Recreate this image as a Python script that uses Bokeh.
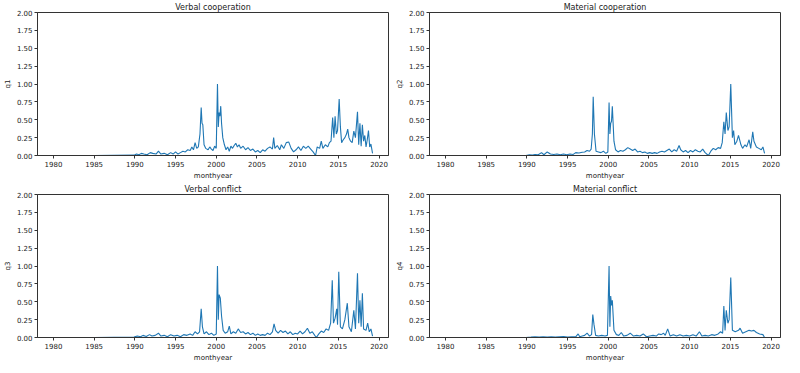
from bokeh.plotting import figure
from bokeh.layouts import gridplot
from bokeh.models import FixedTicker, NumeralTickFormatter, Range1d
from bokeh.embed import file_html
from bokeh.resources import INLINE

# ---------------- data ----------------
titles = ["Verbal cooperation", "Material cooperation", "Verbal conflict", "Material conflict"]
ylabels = ["q1", "q2", "q3", "q4"]
xticks = [1980, 1985, 1990, 1995, 2000, 2005, 2010, 2015, 2020]
yticks = [0.0, 0.25, 0.5, 0.75, 1.0, 1.25, 1.5, 1.75, 2.0]

t1 = [1980.0, 1985.0, 1989.9, 1990.2, 1990.5, 1990.8, 1991.1, 1991.5, 1991.9, 1992.2, 1992.6, 1992.9,
      1993.2, 1993.6, 1994.0, 1994.4, 1994.7, 1995.0, 1995.3, 1995.6, 1995.9, 1996.2, 1996.5, 1996.8,
      1997.0, 1997.2, 1997.4, 1997.6, 1997.8, 1998.0, 1998.15, 1998.25, 1998.35, 1998.5, 1998.7, 1999.0,
      1999.2, 1999.4, 1999.6, 1999.8, 2000.0, 2000.15, 2000.25, 2000.35, 2000.45, 2000.55, 2000.65, 2000.8,
      2001.0, 2001.2, 2001.4, 2001.6, 2001.8, 2002.0, 2002.2, 2002.4, 2002.6, 2002.8, 2003.0, 2003.3,
      2003.6, 2003.9, 2004.2, 2004.5, 2004.8, 2005.1, 2005.4, 2005.7, 2006.0, 2006.3, 2006.6, 2006.9,
      2007.05, 2007.2, 2007.5, 2007.8, 2008.0, 2008.3, 2008.6, 2008.9, 2009.2, 2009.5, 2009.8, 2010.1,
      2010.4, 2010.7, 2011.0, 2011.3, 2011.6, 2011.9, 2012.2, 2012.4, 2012.7, 2012.9, 2013.1, 2013.4,
      2013.7, 2013.9, 2014.1, 2014.3, 2014.45, 2014.6, 2014.75, 2014.9, 2015.1, 2015.25, 2015.4, 2015.6,
      2015.8, 2016.0, 2016.15, 2016.3, 2016.5, 2016.7, 2016.9, 2017.1, 2017.35, 2017.5, 2017.65, 2017.8,
      2017.95, 2018.1, 2018.25, 2018.4, 2018.55, 2018.7, 2018.85, 2019.0, 2019.2]
q1 = [0.0, 0.0, 0.005, 0.02, 0.01, 0.03, 0.02, 0.01, 0.04, 0.03, 0.02, 0.06,
      0.02, 0.03, 0.01, 0.04, 0.02, 0.05, 0.02, 0.04, 0.06, 0.05, 0.08, 0.07,
      0.12, 0.08, 0.18, 0.10, 0.12, 0.30, 0.67, 0.45, 0.43, 0.15, 0.10, 0.08,
      0.12, 0.09, 0.07, 0.13, 0.10, 1.00, 0.40, 0.60, 0.55, 0.69, 0.45, 0.25,
      0.15, 0.08, 0.12, 0.06, 0.13, 0.10, 0.14, 0.17, 0.12, 0.15, 0.10, 0.13,
      0.08, 0.11, 0.07, 0.09, 0.05, 0.07, 0.04, 0.08, 0.06, 0.10, 0.12, 0.09,
      0.25, 0.10, 0.14, 0.08, 0.15, 0.10, 0.18, 0.19, 0.10, 0.05, 0.08, 0.12,
      0.07, 0.13, 0.10, 0.13, 0.09, 0.05, 0.00, 0.12, 0.10, 0.20, 0.10, 0.15,
      0.12, 0.18, 0.20, 0.53, 0.25, 0.55, 0.30, 0.35, 0.79, 0.40, 0.18, 0.22,
      0.25, 0.30, 0.37, 0.25, 0.20, 0.18, 0.34, 0.25, 0.61, 0.15, 0.45, 0.13,
      0.43, 0.20, 0.28, 0.12, 0.22, 0.35, 0.12, 0.16, 0.03]

t2 = [1980.0, 1985.0, 1989.9, 1990.3, 1990.7, 1991.0, 1991.4, 1991.8, 1992.1, 1992.5, 1992.9, 1993.3,
      1993.7, 1994.1, 1994.5, 1994.9, 1995.3, 1995.7, 1996.0, 1996.4, 1996.8, 1997.1, 1997.4, 1997.7,
      1997.9, 1998.05, 1998.15, 1998.3, 1998.5, 1998.8, 1999.1, 1999.4, 1999.7, 1999.95, 2000.1, 2000.2,
      2000.3, 2000.4, 2000.5, 2000.7, 2000.9, 2001.2, 2001.5, 2001.8, 2002.1, 2002.4, 2002.7, 2003.0,
      2003.3, 2003.6, 2003.9, 2004.2, 2004.5, 2004.8, 2005.1, 2005.4, 2005.7, 2006.0, 2006.3, 2006.6,
      2006.9, 2007.2, 2007.5, 2007.8, 2008.1, 2008.4, 2008.7, 2008.9, 2009.2, 2009.5, 2009.8, 2010.1,
      2010.4, 2010.7, 2011.0, 2011.3, 2011.6, 2011.9, 2012.3, 2012.6, 2012.9, 2013.2, 2013.5, 2013.8,
      2014.0, 2014.2, 2014.35, 2014.5, 2014.7, 2014.85, 2015.05, 2015.25, 2015.4, 2015.55, 2015.8, 2016.0,
      2016.3, 2016.5, 2016.8, 2017.0, 2017.3, 2017.5, 2017.75, 2017.9, 2018.2, 2018.5, 2018.8, 2019.0,
      2019.2]
q2 = [0.0, 0.0, 0.0, 0.01, 0.005, 0.015, 0.01, 0.04, 0.01, 0.05, 0.02, 0.015,
      0.02, 0.01, 0.02, 0.01, 0.02, 0.015, 0.04, 0.035, 0.045, 0.05, 0.07, 0.06,
      0.09, 0.30, 0.82, 0.30, 0.06, 0.05, 0.04, 0.06, 0.03, 0.05, 0.74, 0.30,
      0.45, 0.48, 0.69, 0.20, 0.08, 0.05, 0.07, 0.06, 0.08, 0.11, 0.09, 0.07,
      0.09, 0.05, 0.06, 0.04, 0.05, 0.03, 0.04, 0.03, 0.04, 0.03, 0.05, 0.06,
      0.05, 0.07, 0.09, 0.05, 0.08, 0.06, 0.14, 0.08, 0.05, 0.07, 0.04, 0.07,
      0.05, 0.08, 0.06, 0.05, 0.09, 0.04, 0.00, 0.06, 0.10, 0.08, 0.11, 0.10,
      0.18, 0.47, 0.30, 0.60, 0.35, 0.40, 1.00, 0.25, 0.35, 0.15, 0.20, 0.28,
      0.15, 0.10, 0.15, 0.12, 0.22, 0.10, 0.33, 0.20, 0.12, 0.10, 0.08, 0.12,
      0.03]

t3 = [1980.0, 1985.0, 1989.9, 1990.3, 1990.7, 1991.0, 1991.4, 1991.8, 1992.1, 1992.5, 1992.9, 1993.2,
      1993.6, 1994.0, 1994.4, 1994.8, 1995.2, 1995.6, 1996.0, 1996.4, 1996.8, 1997.1, 1997.4, 1997.7,
      1997.95, 1998.15, 1998.3, 1998.5, 1998.8, 1999.1, 1999.4, 1999.7, 2000.0, 2000.15, 2000.25, 2000.35,
      2000.5, 2000.65, 2000.85, 2001.1, 2001.4, 2001.6, 2001.8, 2002.1, 2002.4, 2002.7, 2003.0, 2003.3,
      2003.6, 2003.9, 2004.2, 2004.5, 2004.8, 2005.1, 2005.4, 2005.7, 2006.0, 2006.3, 2006.6, 2006.9,
      2007.1, 2007.3, 2007.6, 2007.9, 2008.2, 2008.5, 2008.8, 2009.1, 2009.4, 2009.7, 2010.0, 2010.3,
      2010.6, 2010.9, 2011.2, 2011.5, 2011.8, 2012.1, 2012.3, 2012.6, 2012.9, 2013.2, 2013.5, 2013.8,
      2014.05, 2014.25, 2014.4, 2014.6, 2014.8, 2014.9, 2015.05, 2015.25, 2015.5, 2015.8, 2016.1, 2016.3,
      2016.6, 2016.9, 2017.1, 2017.35, 2017.5, 2017.65, 2017.8, 2017.95, 2018.1, 2018.4, 2018.6, 2018.8,
      2019.0, 2019.2]
q3 = [0.0, 0.0, 0.005, 0.02, 0.01, 0.03, 0.015, 0.04, 0.02, 0.03, 0.06, 0.02,
      0.03, 0.01, 0.04, 0.02, 0.03, 0.01, 0.04, 0.03, 0.05, 0.03, 0.08, 0.05,
      0.08, 0.40, 0.15, 0.05, 0.08, 0.04, 0.06, 0.03, 0.05, 1.00, 0.25, 0.60,
      0.55, 0.30, 0.10, 0.06, 0.08, 0.16, 0.05, 0.08, 0.06, 0.12, 0.07, 0.08,
      0.05, 0.07, 0.04, 0.06, 0.03, 0.05, 0.03, 0.04, 0.03, 0.06, 0.04, 0.08,
      0.19, 0.10, 0.06, 0.10, 0.07, 0.09, 0.05, 0.08, 0.04, 0.06, 0.05, 0.09,
      0.05, 0.08, 0.13, 0.06, 0.08, 0.03, 0.00, 0.05, 0.09, 0.07, 0.12, 0.10,
      0.20, 0.80, 0.20, 0.27, 0.40, 0.18, 0.92, 0.15, 0.12, 0.25, 0.48, 0.15,
      0.08, 0.38, 0.12, 0.90, 0.20, 0.52, 0.15, 0.62, 0.12, 0.10, 0.20, 0.08,
      0.12, 0.02]

t4 = [1980.0, 1985.0, 1989.9, 1990.5, 1991.0, 1991.5, 1992.0, 1992.5, 1993.0, 1993.5, 1994.0, 1994.5,
      1995.0, 1995.5, 1996.0, 1996.3, 1996.5, 1996.8, 1997.1, 1997.4, 1997.7, 1997.95, 1998.1, 1998.25,
      1998.45, 1998.8, 1999.2, 1999.6, 1999.9, 2000.1, 2000.2, 2000.3, 2000.4, 2000.5, 2000.7, 2001.0,
      2001.3, 2001.6, 2001.9, 2002.3, 2002.7, 2003.1, 2003.5, 2003.9, 2004.3, 2004.7, 2005.1, 2005.5,
      2005.9, 2006.2, 2006.5, 2006.8, 2007.0, 2007.3, 2007.6, 2008.0, 2008.4, 2008.8, 2009.2, 2009.6,
      2010.0, 2010.4, 2010.8, 2011.2, 2011.5, 2011.9, 2012.3, 2012.7, 2013.1, 2013.5, 2013.8, 2014.05,
      2014.2, 2014.35, 2014.5, 2014.7, 2014.85, 2015.05, 2015.25, 2015.6, 2016.0, 2016.2, 2016.5, 2016.9,
      2017.3, 2017.6, 2017.9, 2018.2, 2018.6, 2019.0, 2019.2]
q4 = [0.0, 0.0, 0.0, 0.005, 0.01, 0.005, 0.01, 0.005, 0.01, 0.005, 0.01, 0.015,
      0.005, 0.01, 0.01, 0.05, 0.01, 0.02, 0.03, 0.06, 0.02, 0.04, 0.32, 0.18,
      0.03, 0.02, 0.03, 0.02, 0.03, 1.00, 0.15, 0.58, 0.45, 0.52, 0.10, 0.04,
      0.03, 0.07, 0.02, 0.03, 0.06, 0.02, 0.03, 0.02, 0.05, 0.01, 0.02, 0.03,
      0.02, 0.05, 0.04, 0.06, 0.03, 0.12, 0.02, 0.04, 0.02, 0.04, 0.02, 0.03,
      0.02, 0.04, 0.02, 0.08, 0.02, 0.03, 0.02, 0.04, 0.03, 0.05, 0.08, 0.06,
      0.44, 0.10, 0.38, 0.20, 0.25, 0.84, 0.10, 0.08, 0.10, 0.13, 0.06, 0.08,
      0.10, 0.09, 0.10, 0.07, 0.05, 0.04, 0.00]

series = [(t1, q1), (t2, q2), (t3, q3), (t4, q4)]

FONT = "DejaVu Sans"
LINE_COLOR = "#1f77b4"


def make_panel(title, ylabel, xs, ys):
    p = figure(width=392, height=182, output_backend="svg", toolbar_location=None,
               x_range=Range1d(1978.04, 2021.16), y_range=Range1d(0, 2),
               min_border_left=4, min_border_right=4, min_border_top=1, min_border_bottom=1,
               background_fill_color="white", border_fill_color="white")
    p.line(xs, ys, line_color=LINE_COLOR, line_width=1.1)

    p.title.text = title
    p.title.text_font = FONT
    p.title.text_font_size = "8px"
    p.title.text_font_style = "normal"
    p.title.text_color = "#222222"
    p.title.align = "center"
    p.title.standoff = 1

    p.xgrid.visible = False
    p.ygrid.visible = False
    p.outline_line_color = "#333333"
    p.outline_line_width = 1

    p.xaxis.ticker = FixedTicker(ticks=xticks)
    p.yaxis.ticker = FixedTicker(ticks=yticks)
    p.yaxis.formatter = NumeralTickFormatter(format="0.00")
    p.xaxis.axis_label = "monthyear"
    p.yaxis.axis_label = ylabel
    for ax in (p.xaxis, p.yaxis):
        ax.axis_line_color = "#333333"
        ax.major_tick_line_color = "#333333"
        ax.major_tick_out = 3
        ax.major_tick_in = 0
        ax.minor_tick_line_color = None
        ax.major_label_text_font = FONT
        ax.major_label_text_font_size = "7px"
        ax.major_label_text_color = "#222222"
        ax.major_label_standoff = 2
        ax.axis_label_text_font = FONT
        ax.axis_label_text_font_size = "7px"
        ax.axis_label_text_font_style = "normal"
        ax.axis_label_text_color = "#222222"
        ax.axis_label_standoff = 2
    return p


panels = [make_panel(titles[i], ylabels[i], series[i][0], series[i][1]) for i in range(4)]
grid = gridplot([[panels[0], panels[1]], [panels[2], panels[3]]], toolbar_location=None)

open("out.html", "w").write(file_html(grid, INLINE))
